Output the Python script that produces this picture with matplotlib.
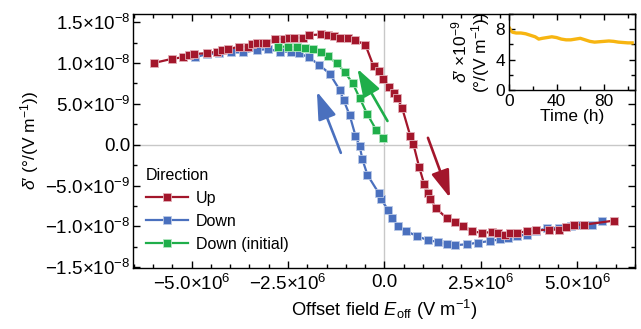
import matplotlib
matplotlib.use("Agg")
import matplotlib.pyplot as plt
from matplotlib.ticker import MultipleLocator

plt.rcParams['font.family'] = ['Liberation Sans', 'DejaVu Sans']
plt.rcParams['mathtext.fontset'] = 'custom'
plt.rcParams['mathtext.rm'] = 'Liberation Sans'
plt.rcParams['mathtext.it'] = 'Liberation Sans:italic'
plt.rcParams['mathtext.bf'] = 'Liberation Sans:bold'

# ---------------- data ----------------
up_x = [-5.98, -5.52, -5.23, -5.08, -4.95, -4.61, -4.33, -4.20, -4.05, -3.76, -3.53, -3.43,
        -3.30, -3.14, -3.07, -2.84, -2.60, -2.47, -2.35, -2.11, -1.96, -1.65, -1.47, -1.31,
        -1.16, -0.95, -0.75, -0.49, -0.28, -0.15, -0.03, 0.13, 0.26, 0.34, 0.46, 0.67, 0.75,
        0.90, 1.03, 1.13, 1.19, 1.34, 1.62, 1.83, 2.04, 2.27, 2.53, 2.78, 2.94, 3.12, 3.25,
        3.43, 3.71, 3.94, 4.28, 4.54, 4.72, 4.92, 5.18, 5.95]
up_y = [10.0, 10.5, 10.7, 11.0, 11.1, 11.2, 11.4, 11.6, 11.7, 12.0, 12.0, 12.3,
        12.4, 12.5, 12.4, 12.9, 13.0, 13.1, 13.1, 13.1, 13.4, 13.5, 13.4, 13.3,
        13.1, 13.1, 12.8, 12.2, 9.6, 9.0, 8.1, 7.1, 6.3, 5.7, 4.5, 1.1, 0.1,
        -2.7, -4.8, -5.9, -6.6, -7.8, -9.0, -9.5, -10.0, -10.6, -10.8, -10.7, -10.8, -11.0, -10.8,
        -10.8, -10.6, -10.5, -10.4, -10.4, -10.1, -9.8, -9.8, -9.3]

down_x = [5.64, 5.39, 5.13, 4.85, 4.54, 4.23, 3.94, 3.69, 3.43, 3.20, 2.99, 2.73, 2.42,
          2.14, 1.83, 1.62, 1.39, 1.13, 0.85, 0.57, 0.36, 0.21, 0.10, -0.10, -0.15, -0.44,
          -0.57, -0.64, -0.75, -0.90, -1.06, -1.16, -1.42, -1.70, -1.96, -2.22, -2.42, -2.71,
          -3.02, -3.30, -3.66, -3.99, -4.28, -4.59, -4.92]
down_y = [-9.4, -9.8, -9.8, -10.0, -10.2, -10.2, -10.6, -11.0, -11.2, -11.4, -11.6, -11.8, -12.0,
          -12.2, -12.3, -12.2, -11.9, -11.7, -11.2, -10.6, -9.9, -9.0, -8.0, -6.6, -5.9, -3.7,
          -1.8, -0.2, 1.1, 3.6, 5.5, 6.7, 8.7, 9.8, 10.7, 11.2, 11.4, 11.4,
          11.7, 11.6, 11.3, 11.3, 11.2, 11.1, 10.7]

init_x = [-0.03, -0.21, -0.44, -0.64, -0.82, -1.03, -1.24, -1.47, -1.65, -1.86, -2.06, -2.27, -2.50, -2.76]
init_y = [0.8, 1.8, 3.7, 5.7, 7.5, 8.9, 10.0, 10.8, 11.3, 11.7, 11.8, 11.9, 12.0, 12.0]

# arrows: (tail x, tail y, tip x, tip y) in units of 1e6 V/m and 1e-9
arrow_up = (1.13, 0.84, 1.70, -6.5)
arrow_down = (-1.13, -1.0, -1.75, 6.5)
arrow_init = (0.08, 2.9, -0.70, 9.3)

time_h = [0, 1, 3, 6, 10, 14, 18, 22, 25, 28, 32, 36, 40, 44, 48, 52, 56, 60, 64, 68, 72,
          76, 80, 84, 88, 92, 96, 100, 105]
time_val = [8.3, 7.9, 7.6, 7.5, 7.5, 7.4, 7.2, 7.0, 6.7, 6.8, 6.9, 7.0, 6.9, 6.7, 6.6, 6.6,
            6.7, 6.8, 6.6, 6.4, 6.3, 6.35, 6.4, 6.45, 6.4, 6.3, 6.25, 6.2, 6.2]

xtick_vals = [-5.0e6, -2.5e6, 0.0, 2.5e6, 5.0e6]
xtick_labels = [r'$-5.0{\times}10^{6}$', r'$-2.5{\times}10^{6}$', '0.0',
                r'$2.5{\times}10^{6}$', r'$5.0{\times}10^{6}$']
ytick_vals = [-1.5e-8, -1.0e-8, -5.0e-9, 0.0, 5.0e-9, 1.0e-8, 1.5e-8]
ytick_labels = [r'$-1.5{\times}10^{-8}$', r'$-1.0{\times}10^{-8}$', r'$-5.0{\times}10^{-9}$',
                '0.0', r'$5.0{\times}10^{-9}$', r'$1.0{\times}10^{-8}$', r'$1.5{\times}10^{-8}$']
series_names = ['Up', 'Down', 'Down (initial)']

RED = '#A3162B'
BLUE = '#4A70BE'
GREEN = '#1FAE4A'
ORANGE = '#F7B511'

FS = 11.5
TFS = 13.5
LFS = 13.2
IFS = 12.5

fig = plt.figure(figsize=(6.41, 3.29), dpi=100)
ax = fig.add_axes([133/641, 1-268/329, (635-133)/641, (268-14)/329])

ax.axhline(0, color='#c8c8c8', lw=1.0, zorder=0)
ax.axvline(0, color='#c8c8c8', lw=1.0, zorder=0)

def sc(xs, f):
    return [v * f for v in xs]

common = dict(marker='s', markersize=6.3, lw=1.6, mew=0.6)
ax.plot(sc(down_x, 1e6), sc(down_y, 1e-9), color=BLUE, mec='#b9c8e6', label=series_names[1], zorder=3, **common)
ax.plot(sc(up_x, 1e6), sc(up_y, 1e-9), color=RED, mec='#e2b0b8', label=series_names[0], zorder=4, **common)
ax.plot(sc(init_x, 1e6), sc(init_y, 1e-9), color=GREEN, mec='#b5e6c3', label=series_names[2], zorder=5, **common)

for (x0, y0, x1, y1), c in [(arrow_up, RED), (arrow_down, BLUE), (arrow_init, GREEN)]:
    ax.annotate('', xy=(x1*1e6, y1*1e-9), xytext=(x0*1e6, y0*1e-9),
                arrowprops=dict(arrowstyle='-|>,head_length=1.2,head_width=0.4',
                                mutation_scale=14, lw=1.9, color=c, shrinkA=0, shrinkB=0),
                zorder=6)

ax.set_xlim(-6.52e6, 6.5e6)
ax.set_ylim(-1.51e-8, 1.6e-8)
ax.set_xticks(xtick_vals)
ax.set_xticklabels(xtick_labels)
ax.set_yticks(ytick_vals)
ax.set_yticklabels(ytick_labels)
ax.xaxis.set_minor_locator(MultipleLocator(0.5e6))
ax.yaxis.set_minor_locator(MultipleLocator(2.5e-9))
ax.tick_params(which='both', direction='in', top=True, right=True, labelsize=TFS, width=1.0, color='black')
ax.tick_params(which='major', length=5)
ax.tick_params(axis='x', which='major', pad=4)
ax.tick_params(axis='y', which='major', pad=2)
ax.tick_params(which='minor', length=3)
for s in ax.spines.values():
    s.set_linewidth(1.0)

ax.set_xlabel(r'Offset field $E_{\mathrm{off}}$ (V m$^{-1}$)', fontsize=LFS, labelpad=3)
ax.set_ylabel(r'$\delta$' + "\u2032" + r' ($\degree$/(V m$^{-1}$))', fontsize=12.5, labelpad=3)

h, l = ax.get_legend_handles_labels()
order = [1, 0, 2]
leg = ax.legend([h[i] for i in order], [l[i] for i in order], title='Direction', loc='upper left',
                bbox_to_anchor=(0.026, 0.395), frameon=False, fontsize=FS, title_fontsize=FS,
                handlelength=2.6, handletextpad=0.5, labelspacing=0.5, borderpad=0, borderaxespad=0)
leg._legend_box.align = 'left'

# inset
ins = fig.add_axes([509/641, 1-90/329, (635-509)/641, (90-14)/329])
ins.plot(time_h, time_val, color=ORANGE, lw=2.4, solid_capstyle='butt')
ins.set_xlim(0, 106)
ins.set_ylim(0, 10)
ins.set_xticks([0, 40, 80])
ins.set_yticks([0, 4, 8])
ins.xaxis.set_minor_locator(MultipleLocator(20))
ins.yaxis.set_minor_locator(MultipleLocator(2))
ins.tick_params(which='both', direction='in', top=True, right=True, labelsize=IFS, width=1.0)
ins.tick_params(which='major', length=4, pad=3)
ins.tick_params(which='minor', length=3)
for s in ins.spines.values():
    s.set_linewidth(1.0)
ins.set_xlabel('Time (h)', fontsize=IFS, labelpad=0)
ins.set_ylabel(r'$\delta$' + "\u2032" + r' $\times10^{-9}$' + '\n' + r'($\degree$/(V m$^{-1}$))',
               fontsize=IFS, labelpad=2, linespacing=1.0)

fig.savefig('out.png', dpi=100)
